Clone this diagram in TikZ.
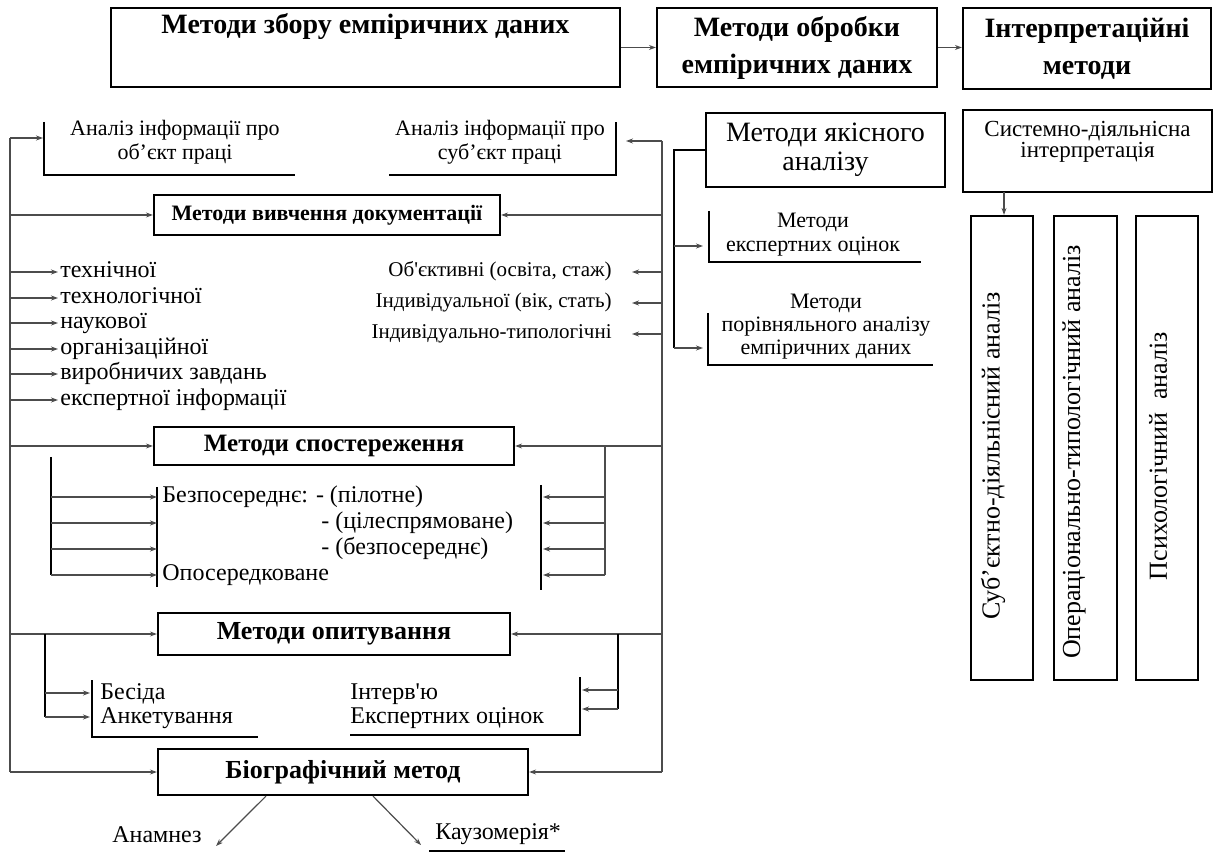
\documentclass[tikz,border=0pt]{standalone}
\usepackage{fontspec}
\setmainfont{Liberation Serif}
\usetikzlibrary{arrows.meta,positioning}

\begin{document}
\begin{tikzpicture}[x=.5pt,y=-.5pt,
    box/.style={draw,line width=1.1pt,inner sep=0pt},
    ln/.style={draw=black!70,line width=.6pt},
    arr/.style={ln,-{Stealth[length=3.5pt,width=2.5pt]}},
    brk/.style={line width=.9pt},
    head/.style={font=\fontsize{14}{18.5}\selectfont\bfseries,align=center},
    item/.style={font=\fontsize{12}{13}\selectfont,inner sep=1pt,anchor=west,text height=8.5pt,text depth=2.5pt},
    note/.style={font=\fontsize{11}{12}\selectfont,align=center,inner sep=0pt},
    side/.style={font=\fontsize{10.5}{12}\selectfont,inner sep=0pt,anchor=east,text height=7.5pt,text depth=2.5pt},
    vert/.style={font=\fontsize{13}{13}\selectfont,rotate=90,inner sep=0pt}]
\useasboundingbox (0,0) rectangle (1214,854);
% header row
\node[box,minimum width=254.5pt,minimum height=39.5pt] (collect) at (365.5,47.5) {};
\node[head,anchor=north,inner sep=0pt] (collectT) at ([yshift=-3pt]collect.north) {Методи збору емпіричних даних};
\node[box,head,minimum width=140pt,minimum height=39.5pt] (process) at (797,47.5) {Методи обробки\\емпіричних даних};
\node[box,head,minimum width=124pt,minimum height=40.5pt] (interp) at (1087,48.5) {Інтерпретаційні\\методи};
\draw[arr] (collect) -- (process);
\draw[arr] (process.east) -- (process.east -| interp.west);

% processing column
\node[box,font=\fontsize{14}{14.5}\selectfont,align=center,minimum width=119.5pt,minimum height=37pt] (quality) at (825.5,150) {Методи якісного\\аналізу};
\node[note] (expert) at (813,235) {Методи\\експертних оцінок};
\node[note,font=\fontsize{11}{11.5}\selectfont] (compare) at (826,327) {Методи\\порівняльного аналізу\\емпіричних даних};
\draw[brk] (709,211) -- (709,262) -- (921,262);
\draw[brk] (708,313) -- (708,365) -- (933,365);
\coordinate (qfork) at (674,150);
\coordinate (expertIn) at (703,246);
\coordinate (compareIn) at (703,348);
\draw[brk] (quality.west) -- (qfork) -- (qfork |- compareIn);
\draw[arr] (qfork |- expertIn) -- (expertIn);
\draw[arr] (qfork |- compareIn) -- (compareIn);

% interpretation column
\node[box,minimum width=124.5pt,minimum height=41pt] (system) at (1087.5,151) {};
\node[font=\fontsize{11.5}{10.5}\selectfont,align=center,anchor=north,inner sep=0pt] (systemT) at ([yshift=-6pt]system.north) {Системно-діяльнісна\\інтерпретація};
\node[box,minimum width=31pt,minimum height=232pt] (subjA) at (1002,448) {};
\node[box,minimum width=31.5pt,minimum height=232pt] (operA) at (1085.5,448) {};
\node[box,minimum width=31pt,minimum height=232pt] (psychA) at (1167,448) {};
\node[vert] (subjT) at (993,456) {Суб’єктно-діяльнісний аналіз};
\node[vert] (operT) at (1074,452) {Операціонально-типологічний аналіз};
\node[vert] (psychT) at (1158,456) {Психологічний~~аналіз};
\coordinate (sysDrop) at (1004,192);
\draw[arr] (sysDrop) -- (sysDrop |- subjA.north);

% collecting: main rails
\coordinate (ltop) at (10,138);
\coordinate (rtop) at (662,141);
\node[box,font=\fontsize{11}{12}\selectfont\bfseries,minimum width=173pt,minimum height=20pt] (docs) at (327,215) {Методи вивчення документації};
\node[box,font=\fontsize{12.5}{13}\selectfont\bfseries,minimum width=180pt,minimum height=19pt] (observe) at (334,446) {Методи спостереження};
\node[box,font=\fontsize{13}{14}\selectfont\bfseries,minimum width=176pt,minimum height=21pt] (survey) at (334,634) {Методи опитування};
\node[box,font=\fontsize{13}{14}\selectfont\bfseries,minimum width=185pt,minimum height=23pt] (bio) at (343,772) {Біографічний метод};
\draw[ln] (ltop) -- (ltop |- bio.west);
\draw[ln] (rtop) -- (rtop |- bio.east);
\draw[arr] (ltop |- docs.west) -- (docs.west);
\draw[arr] (rtop |- docs.east) -- (docs.east);
\draw[arr] (ltop |- observe.west) -- (observe.west);
\draw[arr] (rtop |- observe.east) -- (observe.east);
\draw[arr] (ltop |- survey.west) -- (survey.west);
\draw[arr] (rtop |- survey.east) -- (survey.east);
\draw[arr] (ltop |- bio.west) -- (bio.west);
\draw[arr] (rtop |- bio.east) -- (bio.east);

% object / subject of labour
\node[note] (object) at (175,142) {Аналіз інформації про\\об’єкт праці};
\node[note] (subject) at (500,142) {Аналіз інформації про\\суб’єкт праці};
\draw[brk] (44,122) -- (44,175) -- (295,175);
\draw[brk] (389,175) -- (616,175) -- (616,122);
\coordinate (objectIn) at (43,138);
\coordinate (subjectIn) at (626,141);
\draw[arr] (ltop) -- (objectIn);
\draw[arr] (rtop) -- (subjectIn);

% documentation kinds
\node[item] (tech) at (58,272) {технічної};
\node[item] (techno) at (58,298) {технологічної};
\node[item] (sci) at (58,323) {наукової};
\node[item] (org) at (58,349) {організаційної};
\node[item] (prod) at (58,374) {виробничих завдань};
\node[item] (expinfo) at (58,400) {експертної інформації};
\draw[arr] (ltop |- tech.west) -- (tech.west);
\draw[arr] (ltop |- techno.west) -- (techno.west);
\draw[arr] (ltop |- sci.west) -- (sci.west);
\draw[arr] (ltop |- org.west) -- (org.west);
\draw[arr] (ltop |- prod.west) -- (prod.west);
\draw[arr] (ltop |- expinfo.west) -- (expinfo.west);
\node[side] (objv) at (612,272) {Об\textquotesingle єктивні (освіта, стаж)};
\node[side] (indv) at (612,303) {Індивідуальної (вік, стать)};
\node[side] (indt) at (612,334) {Індивідуально-типологічні};
\draw[arr] (rtop |- objv.east) -- ([xshift=10pt]objv.east);
\draw[arr] (rtop |- indv.east) -- ([xshift=10pt]indv.east);
\draw[arr] (rtop |- indt.east) -- ([xshift=10pt]indt.east);

% observation kinds
\node[item,inner sep=0pt] (direct) at (162,497) {Безпосереднє: - (пілотне)};
\node[item,inner sep=0pt] (aimed) at (321,523) {- (цілеспрямоване)};
\node[item,inner sep=0pt] (immed) at (321,549) {- (безпосереднє)};
\node[item,inner sep=0pt] (indirect) at (162,575) {Опосередковане};
\coordinate (obsL) at (51,457);
\coordinate (obsR) at (605,446);
\coordinate (obsBrL) at (157,487);
\coordinate (obsBrR) at (541,485);
\draw[brk] (obsL) -- (obsL |- indirect.west);
\draw[brk] (obsBrL) -- (157,587);
\draw[brk] (obsBrR) -- (541,590);
\draw[ln] (obsR) -- (obsR |- indirect.west);
\draw[arr] (obsL |- direct.west) -- (obsBrL |- direct.west);
\draw[arr] (obsL |- aimed.west) -- (obsBrL |- aimed.west);
\draw[arr] (obsL |- immed.west) -- (obsBrL |- immed.west);
\draw[arr] (obsL |- indirect.west) -- (obsBrL |- indirect.west);
\draw[arr] (obsR |- direct.west) -- ([xshift=1pt]obsBrR |- direct.west);
\draw[arr] (obsR |- aimed.west) -- ([xshift=1pt]obsBrR |- aimed.west);
\draw[arr] (obsR |- immed.west) -- ([xshift=1pt]obsBrR |- immed.west);
\draw[arr] (obsR |- indirect.west) -- ([xshift=1pt]obsBrR |- indirect.west);

% survey kinds
\node[item] (talk) at (98,693) {Бесіда};
\node[item] (quest) at (98,717) {Анкетування};
\node[item] (interview) at (348,693) {Інтерв\textquotesingle ю};
\node[item] (expval) at (348,717) {Експертних оцінок};
\coordinate (surL) at (45,634);
\coordinate (surR) at (618,634);
\draw[brk] (surL) -- (surL |- quest.west);
\draw[brk] (surR) -- (618,709);
\draw[brk] (92,680) -- (92,737) -- (258,737);
\draw[brk] (350,735) -- (580,735) -- (580,677);
\draw[arr] (surL |- talk.west) -- (90,693);
\draw[arr] (surL |- quest.west) -- (90,717);
\draw[arr] (618,690) -- (582,690);
\draw[arr] (618,709) -- (582,709);

% biographical method
\node[item,anchor=center] (anam) at (157,836) {Анамнез};
\node[item] (cause) at (433,833) {Каузомерія*};
\draw[brk] (429,851) -- (565,851);
\draw[arr] ([xshift=-38.5pt]bio.south) -- ([xshift=6pt,yshift=-5pt]anam.east);
\draw[arr] ([xshift=15pt]bio.south) -- ([xshift=-6pt,yshift=-6pt]cause.west);
\end{tikzpicture}
\end{document}
